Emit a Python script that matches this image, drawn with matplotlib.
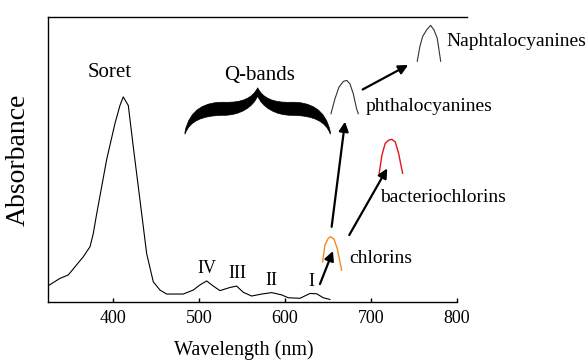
import matplotlib
matplotlib.use("Agg")
import matplotlib.pyplot as plt
from matplotlib.path import Path
from matplotlib.patches import PathPatch

plt.rcParams['font.family'] = ['Liberation Serif', 'DejaVu Serif']

# porphyrin spectrum (wavelength nm, relative absorbance)
wl = [323.6, 337.9, 347.6, 365.1, 372.9, 376.7, 380.7, 392.3, 402.0, 407.8,
      411.6, 417.5, 423.3, 431.1, 438.9, 446.6, 454.4, 462.2, 481.5, 493.2,
      501.0, 508.8, 516.5, 524.3, 535.9, 543.7, 551.5, 561.2, 572.9, 584.5,
      596.2, 603.8, 617.5, 629.1, 636.9, 644.6, 652.4]
absb = [0.056, 0.083, 0.095, 0.159, 0.194, 0.24, 0.31, 0.50, 0.627, 0.69,
        0.72, 0.69, 0.545, 0.358, 0.17, 0.071, 0.042, 0.028, 0.028, 0.042,
        0.06, 0.074, 0.056, 0.040, 0.051, 0.056, 0.034, 0.021, 0.028, 0.033,
        0.025, 0.015, 0.013, 0.030, 0.029, 0.015, 0.009]

# shifted Q band I for each family
chl_x = [643.9, 646.6, 650.4, 653.2, 657.1, 660.9, 664.1, 666.0]
chl_y = [0.141, 0.200, 0.2235, 0.229, 0.221, 0.188, 0.141, 0.112]
bch_x = [709.8, 713.0, 716.8, 720.8, 724.6, 728.5, 732.4, 735.5, 737.1]
bch_y = [0.452, 0.516, 0.557, 0.568, 0.571, 0.562, 0.522, 0.475, 0.452]
pc_x = [653.6, 658.2, 662.9, 667.9, 671.9, 675.7, 679.6, 683.5, 685.4]
pc_y = [0.661, 0.713, 0.754, 0.774, 0.778, 0.766, 0.731, 0.678, 0.661]
nc_x = [754.1, 757.2, 760.4, 765.0, 769.7, 773.6, 777.4, 779.7, 781.4]
nc_y = [0.845, 0.897, 0.932, 0.955, 0.971, 0.955, 0.926, 0.880, 0.845]

band_labels = ['IV', 'III', 'II', 'I']
band_pos = [(508.8, 0.118), (544.4, 0.101), (584.5, 0.077), (631.1, 0.071)]

# arrows (tail, head)
arrows = [((640.8, 0.063), (655.9, 0.179)),
          ((654.4, 0.264), (670.0, 0.633)),
          ((674.9, 0.235), (719.2, 0.469)),
          ((690.5, 0.746), (743.6, 0.832))]

fig = plt.figure(figsize=(5.88, 3.62), dpi=100)
ax = fig.add_axes([0.0811, 0.1657, 0.713, 0.787])

ax.plot(wl, absb, color='black', lw=0.8)
ax.plot(chl_x, chl_y, color='#f5891f', lw=1.0)
ax.plot(bch_x, bch_y, color='#e3141b', lw=1.0)
ax.plot(pc_x, pc_y, color='#333333', lw=0.8)
ax.plot(nc_x, nc_y, color='#333333', lw=0.8)

for (t, h) in arrows:
    ax.annotate('', xy=h, xytext=t,
                arrowprops=dict(arrowstyle='-|>', color='black', lw=1.6,
                                mutation_scale=14, shrinkA=0, shrinkB=0))

for lab, (x, y) in zip(band_labels, band_pos):
    ax.text(x, y, lab, fontsize=13, ha='center', va='center')

ax.text(395.6, 0.804, 'Soret', fontsize=15, ha='center', va='center')
ax.text(571, 0.796, 'Q-bands', fontsize=15, ha='center', va='center')
ax.text(788.3, 0.916, 'Naphtalocyanines', fontsize=14, ha='left', va='center')
ax.text(694.4, 0.688, 'phthalocyanines', fontsize=14, ha='left', va='center')
ax.text(710.7, 0.368, 'bacteriochlorins', fontsize=14, ha='left', va='center')
ax.text(674.9, 0.151, 'chlorins', fontsize=14, ha='left', va='center')

# curly brace over the Q bands, built in pixel offsets from its tip
W, H = 419.3, 285.0
tip = (257.7 - 47.7, 302 - 87.7)
left = [(0, 0), (-5, 10), (-15, 15), (-33, 14.5),
        (-52, 14), (-68, 21), (-72.7, 44.3),
        (-72.7, 46.5),
        (-68, 33), (-55, 28), (-35, 27.5),
        (-18, 28), (-4, 19), (0, 8)]
right = [(-x, y) for (x, y) in left[::-1]]
pts = left + right[1:]
codes = [Path.MOVETO] + [Path.CURVE4] * 6 + [Path.LINETO] + [Path.CURVE4] * 6
codes += [Path.CURVE4] * 6 + [Path.LINETO] + [Path.CURVE4] * 6
verts = [((tip[0] + x) / W, (tip[1] - y) / H) for (x, y) in pts]
ax.add_patch(PathPatch(Path(verts, codes), facecolor='black',
                       edgecolor='black', lw=0.5, transform=ax.transAxes))

ax.set_xlim(323.6, 812)
ax.set_ylim(0, 1)
ax.spines['right'].set_visible(False)
ax.spines['bottom'].set_bounds(323.6, 800)
for s in ['left', 'bottom', 'top']:
    ax.spines[s].set_linewidth(1.0)
ax.set_xticks([400, 500, 600, 700, 800])
ax.set_yticks([])
ax.tick_params(axis='x', direction='in', length=3, width=1, pad=6,
               labelsize=13, top=False)
ax.set_ylabel('Absorbance', fontsize=20, labelpad=12)
ax.set_xlabel('Wavelength (nm)', fontsize=14.5)
ax.xaxis.set_label_coords(0.468, -0.135)

fig.savefig('out.png', dpi=100)
